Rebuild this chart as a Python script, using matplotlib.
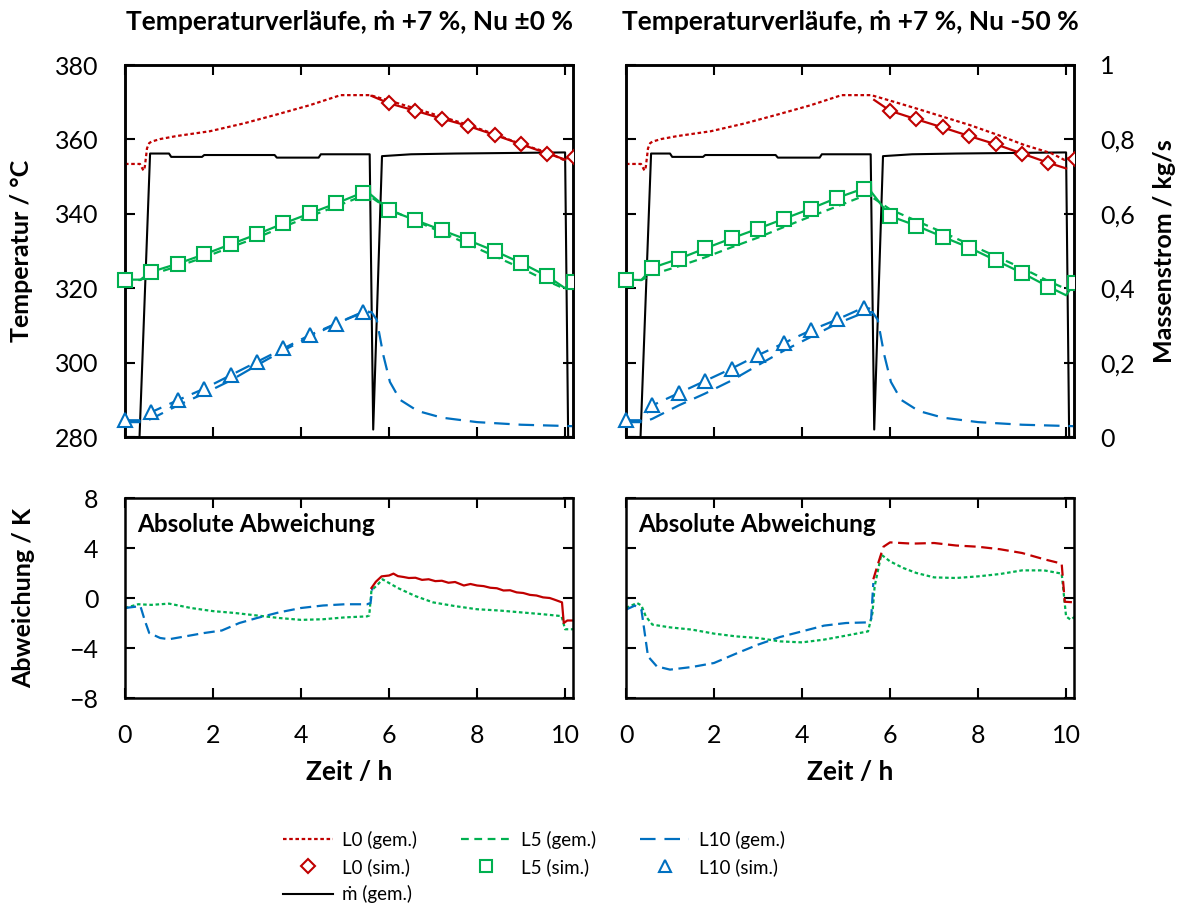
import matplotlib
matplotlib.use("Agg")
import matplotlib.pyplot as plt
from matplotlib.lines import Line2D
from matplotlib.ticker import FixedLocator, FuncFormatter

plt.rcParams['font.family'] = ['Lato', 'DejaVu Sans']
plt.rcParams['font.size'] = 18

RED = '#C00000'
GREEN = '#00B050'
BLUE = '#0070C0'

# ---- measured data (same for both cases) ----
t_L0_gem = [0, 0.34, 0.42, 0.45, 0.5, 0.55, 0.6, 0.8, 1.17, 1.93, 2.7, 3.45, 4.2, 4.9, 5.57,
            5.95, 6.6, 7.2, 7.8, 8.45, 9.05, 9.66, 9.96, 10.1, 10.2]
T_L0_gem = [353.4, 353.4, 351.6, 352.6, 357.6, 359.0, 359.4, 360.1, 360.9, 362.2, 364.3, 366.7,
            369.2, 371.9, 371.9, 370.6, 368.3, 366.1, 363.9, 361.2, 358.5, 356.3, 354.5, 355.2, 355.2]

t_L5_gem = [0, 0.35, 0.6, 1.2, 1.8, 2.4, 3.0, 3.6, 4.2, 4.8, 5.4, 5.5, 5.6, 6.0, 6.6, 7.2,
            7.8, 8.4, 9.0, 9.6, 10.0, 10.1, 10.2]
T_L5_gem = [322.3, 322.2, 323.7, 325.9, 328.3, 331.0, 333.6, 336.5, 339.3, 342.0, 344.8, 345.7,
            344.4, 341.2, 338.1, 335.0, 331.8, 328.6, 325.4, 321.9, 319.8, 321.3, 321.3]

t_L10_gem = [0, 0.4, 0.6, 1.2, 1.8, 2.4, 3.0, 3.6, 4.2, 4.8, 5.4, 5.6, 5.72, 5.87, 6.02,
             6.25, 6.65, 7.2, 8.0, 9.0, 10.2]
T_L10_gem = [284.0, 284.0, 284.9, 288.5, 291.7, 295.2, 299.3, 303.3, 306.9, 310.5, 313.4,
             313.6, 311.5, 302.0, 294.8, 290.0, 287.0, 285.2, 284.0, 283.3, 282.9]

t_mdot = [0, 0.33, 0.57, 1.0, 1.05, 1.75, 1.8, 3.4, 3.45, 4.4, 4.45, 5.56, 5.64, 5.84,
          6.5, 7.5, 10.0, 10.07, 10.2]
mdot = [0, 0, 0.762, 0.762, 0.753, 0.753, 0.758, 0.758, 0.751, 0.751, 0.760, 0.760, 0.02,
        0.755, 0.760, 0.762, 0.765, 0.0, 0.0]

# ---- simulation: marker times ----
t_marks_L0 = [6.0, 6.6, 7.2, 7.8, 8.4, 9.0, 9.6, 10.2]
t_marks_L5 = [0.0, 0.6, 1.2, 1.8, 2.4, 3.0, 3.6, 4.2, 4.8, 5.4, 6.0, 6.6, 7.2, 7.8, 8.4,
              9.0, 9.6, 10.2]
t_marks_L10 = [0.0, 0.6, 1.2, 1.8, 2.4, 3.0, 3.6, 4.2, 4.8, 5.4]

# case 1: Nu +-0 %
L0_sim_line_t_1 = [5.6, 6.0, 6.6, 7.2, 7.8, 8.4, 9.0, 9.6, 10.0]
L0_sim_line_1 = [371.7, 369.7, 367.7, 365.6, 363.6, 361.2, 358.7, 356.2, 354.6]
L0_sim_marks_1 = [369.7, 367.7, 365.6, 363.6, 361.2, 358.7, 356.2, 355.3]
L5_sim_line_t_1 = [0, 0.35, 0.6, 1.2, 1.8, 2.4, 3.0, 3.6, 4.2, 4.8, 5.4, 5.5, 6.0, 6.6,
                   7.2, 7.8, 8.4, 9.0, 9.6, 10.0, 10.2]
L5_sim_line_1 = [322.3, 322.3, 324.4, 326.6, 329.1, 331.8, 334.5, 337.4, 340.1, 342.8, 345.7,
                 346.0, 341.0, 338.3, 335.6, 332.9, 330.0, 326.8, 323.2, 320.0, 321.7]
L5_sim_marks_1 = [322.3, 324.4, 326.6, 329.1, 331.8, 334.5, 337.4, 340.1, 342.8, 345.7,
                  341.0, 338.3, 335.6, 332.9, 330.0, 326.8, 323.2, 321.7]
L10_sim_line_t_1 = [0, 0.35, 0.6, 1.2, 1.8, 2.4, 3.0, 3.6, 4.2, 4.8, 5.4, 5.55]
L10_sim_line_1 = [284.5, 284.5, 286.7, 289.9, 293.0, 296.6, 300.2, 303.8, 307.4, 310.5,
                  313.6, 313.8]
L10_sim_marks_1 = [284.5, 286.7, 289.9, 293.0, 296.6, 300.2, 303.8, 307.4, 310.5, 313.6]

# case 2: Nu -50 %
L0_sim_line_t_2 = [5.64, 6.0, 6.6, 7.2, 7.8, 8.4, 9.0, 9.6, 10.0]
L0_sim_line_2 = [370.6, 367.7, 365.4, 363.2, 360.9, 358.7, 356.2, 353.7, 352.2]
L0_sim_marks_2 = [367.7, 365.4, 363.2, 360.9, 358.7, 356.2, 353.7, 354.8]
L5_sim_line_t_2 = [0, 0.35, 0.6, 1.2, 1.8, 2.4, 3.0, 3.6, 4.2, 4.8, 5.4, 5.5, 6.0, 6.6,
                   7.2, 7.8, 8.4, 9.0, 9.6, 10.0, 10.2]
L5_sim_line_2 = [322.3, 322.2, 325.5, 327.9, 330.7, 333.4, 336.0, 338.7, 341.4, 344.3, 346.8,
                 347.0, 339.4, 336.8, 333.8, 330.9, 327.5, 324.1, 320.4, 318.1, 321.5]
L5_sim_marks_2 = [322.3, 325.5, 327.9, 330.7, 333.4, 336.0, 338.7, 341.4, 344.3, 346.8,
                  339.4, 336.8, 333.8, 330.9, 327.5, 324.1, 320.4, 321.5]
L10_sim_line_t_2 = [0, 0.35, 0.6, 1.2, 1.8, 2.4, 3.0, 3.6, 4.2, 4.8, 5.4, 5.55]
L10_sim_line_2 = [284.5, 284.5, 288.5, 291.8, 295.1, 298.4, 302.0, 305.3, 308.7, 311.6,
                  314.8, 314.5]
L10_sim_marks_2 = [284.5, 288.5, 291.8, 295.1, 298.4, 302.0, 305.3, 308.7, 311.6, 314.8]

# ---- absolute deviation ----
t_dev_L0_1 = [5.6, 5.7, 5.83, 6.0, 6.1, 6.2, 6.33, 6.45, 6.6, 6.75, 6.9, 7.05, 7.2, 7.35, 7.5,
              7.7, 7.85, 8.0, 8.15, 8.3, 8.45, 8.6, 8.75, 8.9, 9.05, 9.2, 9.35, 9.5, 9.65,
              9.75, 9.93, 9.97, 10.05, 10.2]
dev_L0_1 = [0.8, 1.3, 1.73, 1.8, 1.95, 1.75, 1.68, 1.6, 1.62, 1.45, 1.5, 1.35, 1.38, 1.22,
            1.28, 1.0, 1.12, 1.0, 0.95, 0.82, 0.78, 0.6, 0.62, 0.45, 0.4, 0.25, 0.2, 0.05,
            0.0, -0.12, -0.35, -2.0, -1.8, -1.8]
t_dev_L5_1 = [0, 0.3, 0.6, 1.0, 1.5, 2.0, 2.5, 3.0, 3.5, 4.0, 4.5, 5.0, 5.5, 5.55, 5.6,
              5.75, 5.85, 6.2, 6.6, 7.0, 7.5, 8.0, 8.5, 9.0, 9.5, 9.92, 10.0, 10.2]
dev_L5_1 = [-0.8, -0.5, -0.55, -0.45, -0.8, -1.05, -1.2, -1.4, -1.6, -1.75, -1.7, -1.55,
            -1.47, -1.4, 0.6, 1.1, 1.5, 0.8, 0.15, -0.35, -0.65, -0.9, -1.0, -1.15, -1.3,
            -1.45, -2.5, -2.5]
t_dev_L10_1 = [0, 0.35, 0.45, 0.55, 0.8, 1.0, 1.4, 1.8, 2.2, 2.6, 3.0, 3.5, 4.0, 4.5, 5.0,
               5.5, 5.58, 5.62]
dev_L10_1 = [-0.8, -0.65, -1.8, -2.8, -3.2, -3.3, -3.05, -2.8, -2.6, -2.0, -1.6, -1.15, -0.8,
             -0.6, -0.5, -0.5, -0.4, 0.8]

t_dev_L0_2 = [5.62, 5.75, 5.85, 6.0, 6.5, 7.0, 7.5, 8.0, 8.5, 9.0, 9.5, 9.9, 9.97, 10.2]
dev_L0_2 = [1.5, 3.0, 4.1, 4.45, 4.35, 4.4, 4.2, 4.1, 3.9, 3.6, 3.1, 2.75, -0.3, -0.35]
t_dev_L5_2 = [0, 0.25, 0.35, 0.45, 0.6, 1.0, 1.5, 2.0, 2.5, 3.0, 3.5, 4.0, 4.5, 5.0, 5.5,
              5.6, 5.65, 5.8, 6.0, 6.3, 6.6, 7.0, 7.5, 8.0, 8.5, 9.0, 9.5, 9.9, 10.0, 10.1,
              10.2]
dev_L5_2 = [-0.8, -0.4, -0.6, -1.47, -2.13, -2.35, -2.53, -2.85, -3.07, -3.2, -3.47, -3.55,
            -3.33, -3.01, -2.67, -1.2, 0.93, 3.47, 2.93, 2.4, 2.0, 1.65, 1.6, 1.73, 1.92,
            2.21, 2.21, 1.95, -1.47, -1.73, -1.5]
t_dev_L10_2 = [0, 0.2, 0.35, 0.5, 0.7, 1.0, 1.5, 2.0, 2.5, 3.0, 3.5, 4.0, 4.5, 5.0, 5.5,
               5.57, 5.62]
dev_L10_2 = [-0.93, -0.61, -0.93, -4.67, -5.47, -5.73, -5.52, -5.2, -4.45, -3.73, -3.12,
             -2.67, -2.21, -2.0, -1.95, -1.7, 1.2]

titles = ['Temperaturverläufe, ṁ +7 %, Nu ±0 %', 'Temperaturverläufe, ṁ +7 %, Nu -50 %']
temp_ticks = [280, 300, 320, 340, 360, 380]
mdot_ticks = [0, 0.2, 0.4, 0.6, 0.8, 1.0]
dev_ticks = [-8, -4, 0, 4, 8]
time_ticks = [0, 2, 4, 6, 8, 10]

cases = [
    (L0_sim_line_t_1, L0_sim_line_1, L0_sim_marks_1, L5_sim_line_t_1, L5_sim_line_1,
     L5_sim_marks_1, L10_sim_line_t_1, L10_sim_line_1, L10_sim_marks_1),
    (L0_sim_line_t_2, L0_sim_line_2, L0_sim_marks_2, L5_sim_line_t_2, L5_sim_line_2,
     L5_sim_marks_2, L10_sim_line_t_2, L10_sim_line_2, L10_sim_marks_2),
]
devs = [
    (t_dev_L0_1, dev_L0_1, '-', t_dev_L5_1, dev_L5_1, t_dev_L10_1, dev_L10_1),
    (t_dev_L0_2, dev_L0_2, (0, (5, 2.5)), t_dev_L5_2, dev_L5_2, t_dev_L10_2, dev_L10_2),
]

DOT = (0, (1.6, 1.2))
DASH = (0, (3.5, 2.5))
LDASH = (0, (7, 4))

fig = plt.figure(figsize=(11.79, 9.05), dpi=100)
lefts = [125 / 1179, 626 / 1179]
W = 448 / 1179


def style_axis(ax):
    for s in ax.spines.values():
        s.set_linewidth(1.8)
    ax.tick_params(direction='in', length=7, width=1.5, top=True, right=True,
                   labelsize=18, pad=19)


def sim_markers(ax, tm, vals, marker, color, size):
    # markers up to 10 h stay whole, the one beyond is cut by the plot area
    inner = [(a, b) for a, b in zip(tm, vals) if a <= 10.0]
    outer = [(a, b) for a, b in zip(tm, vals) if a > 10.0]
    ax.plot([a for a, b in inner], [b for a, b in inner], ls='none', marker=marker, ms=size,
            mfc='white', mec=color, mew=1.5, clip_on=False, zorder=4)
    if outer:
        ax.plot([a for a, b in outer], [b for a, b in outer], ls='none', marker=marker,
                ms=size, mfc='white', mec=color, mew=1.5, zorder=4)


for i in range(2):
    ax = fig.add_axes([lefts[i], 1 - 437 / 905, W, 372 / 905])
    ax2 = ax.twinx()
    ax.set_zorder(ax2.get_zorder() + 1)
    ax.patch.set_visible(False)
    (l0t, l0v, l0m, l5t, l5v, l5m, l10t, l10v, l10m) = cases[i]

    ax2.plot(t_mdot, mdot, color='black', lw=1.5)
    ax.plot(t_L0_gem, T_L0_gem, color=RED, lw=1.6, ls=DOT)
    ax.plot(t_L5_gem, T_L5_gem, color=GREEN, lw=1.6, ls=DASH)
    ax.plot(t_L10_gem, T_L10_gem, color=BLUE, lw=1.6, ls=LDASH)
    ax.plot(l0t, l0v, color=RED, lw=1.6)
    ax.plot(l5t, l5v, color=GREEN, lw=1.6)
    ax.plot(l10t, l10v, color=BLUE, lw=1.6, ls=LDASH)
    sim_markers(ax, t_marks_L0, l0m, 'D', RED, 7)
    sim_markers(ax, t_marks_L5, l5m, 's', GREEN, 10)
    sim_markers(ax, t_marks_L10, l10m, '^', BLUE, 10)

    ax.set_xlim(0, 10.18)
    ax.set_ylim(280, 380)
    ax2.set_ylim(0, 1)
    ax.xaxis.set_major_locator(FixedLocator(time_ticks))
    ax.yaxis.set_major_locator(FixedLocator(temp_ticks))
    ax2.yaxis.set_major_locator(FixedLocator(mdot_ticks))
    style_axis(ax)
    style_axis(ax2)
    ax.tick_params(labelbottom=False, right=False)
    ax2.tick_params(direction='in', length=7, width=1.5, top=False)
    ax.set_title(titles[i], fontsize=19, fontweight='bold', pad=25)
    if i == 0:
        ax.set_ylabel('Temperatur / °C', fontsize=18, fontweight='bold')
        ax.yaxis.set_label_coords(-0.205, 0.5)
        ax2.tick_params(labelright=False)
    else:
        ax.tick_params(labelleft=False)
        ax2.yaxis.set_major_formatter(
            FuncFormatter(lambda v, p: ('%g' % v).replace('.', ',')))
        ax2.set_ylabel('Massenstrom / kg/s', fontsize=18, fontweight='bold')
        ax2.yaxis.set_label_coords(1.177, 0.5)

    # deviation panel
    bx = fig.add_axes([lefts[i], 1 - 698 / 905, W, 200 / 905])
    (r_t, r_v, r_ls, g_t, g_v, b_t, b_v) = devs[i]
    bx.plot(g_t, g_v, color=GREEN, lw=1.6, ls=DOT)
    bx.plot(b_t, b_v, color=BLUE, lw=1.6, ls=(0, (5, 2.5)))
    bx.plot(r_t, r_v, color=RED, lw=1.6, ls=r_ls)
    bx.set_xlim(0, 10.18)
    bx.set_ylim(-8, 8)
    bx.xaxis.set_major_locator(FixedLocator(time_ticks))
    bx.yaxis.set_major_locator(FixedLocator(dev_ticks))
    style_axis(bx)
    bx.set_xlabel('Zeit / h', fontsize=19, fontweight='bold')
    bx.xaxis.set_label_coords(0.5, -0.31)
    bx.text(0.027, 0.865, 'Absolute Abweichung', transform=bx.transAxes, fontsize=17.5,
            fontweight='bold', va='center', ha='left')
    if i == 0:
        bx.set_ylabel('Abweichung / K', fontsize=18, fontweight='bold')
        bx.yaxis.set_label_coords(-0.2, 0.5)
    else:
        bx.tick_params(labelleft=False)

handles = [
    Line2D([], [], color=RED, lw=1.6, ls=DOT),
    Line2D([], [], ls='none', marker='D', ms=7, mfc='white', mec=RED, mew=1.5),
    Line2D([], [], color='black', lw=1.5),
    Line2D([], [], color=GREEN, lw=1.6, ls=DASH),
    Line2D([], [], ls='none', marker='s', ms=8, mfc='white', mec=GREEN, mew=1.5),
    Line2D([], [], color=BLUE, lw=1.6, ls=LDASH),
    Line2D([], [], ls='none', marker='^', ms=8, mfc='white', mec=BLUE, mew=1.5),
]
labels = ['L0 (gem.)', 'L0 (sim.)', 'ṁ (gem.)', 'L5 (gem.)', 'L5 (sim.)',
          'L10 (gem.)', 'L10 (sim.)']
fig.legend(handles, labels, ncol=3, loc='center', bbox_to_anchor=(0.453, 0.042),
           frameon=False, fontsize=13.5, handlelength=2.65, columnspacing=2.35,
           labelspacing=0.5, handletextpad=0.5, borderpad=0.2)

fig.savefig('out.png', dpi=100)
